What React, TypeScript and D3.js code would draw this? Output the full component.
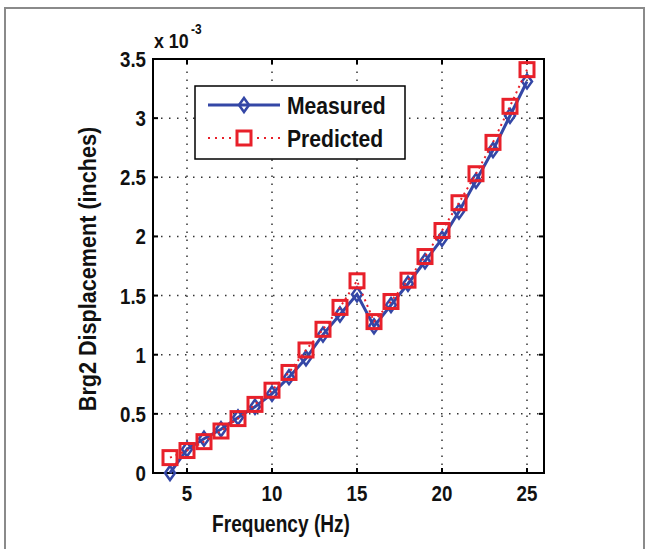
import React from "react";
import * as d3 from "d3";

const frequencies = [4,5,6,7,8,9,10,11,12,13,14,15,16,17,18,19,20,21,22,23,24,25];
const measured = [0.0,0.2,0.29,0.37,0.47,0.56,0.67,0.81,0.97,1.17,1.34,1.51,1.24,1.42,1.6,1.79,1.98,2.21,2.47,2.73,3.02,3.31];
const predicted = [0.13,0.19,0.265,0.355,0.46,0.58,0.70,0.85,1.04,1.215,1.40,1.625,1.28,1.45,1.63,1.83,2.05,2.285,2.53,2.795,3.10,3.41];
const xTicks = [5,10,15,20,25];
const yTicks = [0,0.5,1,1.5,2,2.5,3,3.5];
const seriesNames = ["Measured","Predicted"];

const W = 647, H = 549;
const L = 153, R = 544, T = 59, B = 473;
const FONT = "'Liberation Sans', Arial, sans-serif";
const BLUE = "#3447a6";
const RED = "#e8202a";

function NText({ x, y, size, sx = 0.85, anchor = "start", rotate = 0, children }: any) {
  return (
    <g transform={`translate(${x},${y}) rotate(${rotate}) scale(${sx},1)`}>
      <text x={0} y={0} textAnchor={anchor} fontFamily={FONT} fontWeight="bold" fontSize={size} fill="#111">{children}</text>
    </g>
  );
}

export default function App() {
  const x = d3.scaleLinear().domain([3, 26]).range([L, R]);
  const y = d3.scaleLinear().domain([0, 3.5]).range([B, T]);
  const line = d3.line<number>().x((_, i) => x(frequencies[i])).y(d => y(d));
  const diamond = (cx: number, cy: number) => `M${cx},${cy-7} L${cx+5},${cy} L${cx},${cy+7} L${cx-5},${cy} Z`;
  const sq = 7;
  const tickLen = 5;
  return (
    <svg width={W} height={H} style={{ position: "absolute", left: 0, top: 0, background: "#fff" }}>
      <rect x={0} y={0} width={W} height={H} fill="#fff" />
      <path d={`M5,${H} L5,8 L644,8 L644,${H}`} fill="none" stroke="#8a8a8a" strokeWidth={2} />
      {/* grid */}
      {xTicks.map(t => (
        <line key={"gx"+t} x1={x(t)} x2={x(t)} y1={B} y2={T} stroke="#333" strokeWidth={1.5} strokeDasharray="1.5,6.5" />
      ))}
      {yTicks.filter(t => t > 0 && t < 3.5).map(t => (
        <line key={"gy"+t} x1={L} x2={R} y1={y(t)} y2={y(t)} stroke="#333" strokeWidth={1.5} strokeDasharray="1.5,6.5" />
      ))}
      {/* ticks */}
      {xTicks.map(t => (
        <g key={"tx"+t}>
          <line x1={x(t)} x2={x(t)} y1={B} y2={B - tickLen} stroke="#000" strokeWidth={2} />
          <line x1={x(t)} x2={x(t)} y1={T} y2={T + tickLen} stroke="#000" strokeWidth={2} />
          <NText x={x(t)} y={B + 28} size={22} sx={0.85} anchor="middle">{t}</NText>
        </g>
      ))}
      {yTicks.map(t => (
        <g key={"ty"+t}>
          <line x1={L} x2={L + tickLen} y1={y(t)} y2={y(t)} stroke="#000" strokeWidth={2} />
          <line x1={R} x2={R - tickLen} y1={y(t)} y2={y(t)} stroke="#000" strokeWidth={2} />
          <NText x={L - 7} y={y(t) + 8} size={22} sx={0.85} anchor="end">{t}</NText>
        </g>
      ))}
      {/* box */}
      <rect x={L} y={T} width={R - L} height={B - T} fill="none" stroke="#000" strokeWidth={2} />
      {/* exponent */}
      <NText x={154} y={48} size={21} sx={0.85}>x 10</NText>
      <NText x={191} y={34} size={14} sx={0.85}>-3</NText>
      {/* labels */}
      <NText x={281} y={532} size={23} sx={0.83} anchor="middle">Frequency (Hz)</NText>
      <NText x={96} y={(T + B) / 2 + 3} size={24} sx={0.9} anchor="middle" rotate={-90}>Brg2 Displacement (inches)</NText>
      {/* measured */}
      <path d={line(measured) || ""} fill="none" stroke={BLUE} strokeWidth={3} />
      {measured.map((v, i) => (
        <path key={"m"+i} d={diamond(x(frequencies[i]), y(v))} fill="none" stroke={BLUE} strokeWidth={2.5} />
      ))}
      {/* predicted */}
      <path d={line(predicted) || ""} fill="none" stroke={RED} strokeWidth={2} strokeDasharray="2,4" />
      {predicted.map((v, i) => (
        <rect key={"p"+i} x={x(frequencies[i]) - sq} y={y(v) - sq} width={sq*2} height={sq*2} fill="none" stroke={RED} strokeWidth={3} />
      ))}
      {/* legend */}
      <rect x={195} y={86} width={210} height={73} fill="#fff" stroke="#000" strokeWidth={1.5} />
      <line x1={208} x2={280} y1={105} y2={105} stroke={BLUE} strokeWidth={3} />
      <path d={diamond(244, 105)} fill="none" stroke={BLUE} strokeWidth={2.5} />
      <NText x={287} y={114} size={24} sx={0.88}>{seriesNames[0]}</NText>
      <line x1={208} x2={280} y1={138} y2={138} stroke={RED} strokeWidth={2} strokeDasharray="2,5" />
      <rect x={244 - sq} y={138 - sq} width={sq*2} height={sq*2} fill="#fff" stroke={RED} strokeWidth={3} />
      <NText x={287} y={147} size={24} sx={0.88}>{seriesNames[1]}</NText>
    </svg>
  );
}
